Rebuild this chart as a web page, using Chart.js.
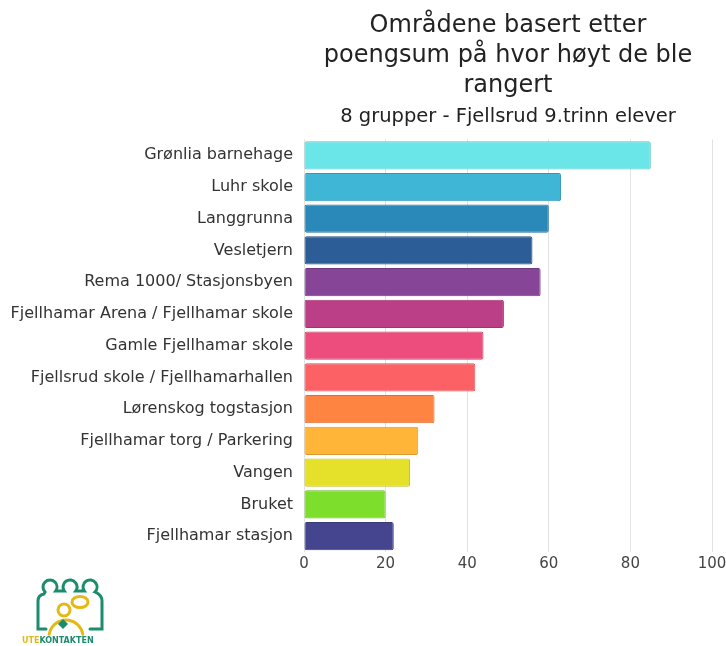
<!DOCTYPE html>
<html>
<head>
<meta charset="utf-8">
<script src="https://cdn.jsdelivr.net/npm/chart.js@4/dist/chart.umd.min.js"></script>
<style>
  html, body { margin: 0; padding: 0; background: #fff; }
  #wrap { width: 726px; height: 646px; position: relative; }
</style>
</head>
<body>
<div id="wrap"><canvas id="chart"></canvas></div>
<script>
const areas = [
    'Grønlia barnehage',
    'Luhr skole',
    'Langgrunna',
    'Vesletjern',
    'Rema 1000/ Stasjonsbyen',
    'Fjellhamar Arena / Fjellhamar skole',
    'Gamle Fjellhamar skole',
    'Fjellsrud skole / Fjellhamarhallen',
    'Lørenskog togstasjon',
    'Fjellhamar torg / Parkering',
    'Vangen',
    'Bruket',
    'Fjellhamar stasjon'
];
const points = [85, 63, 60, 56, 58, 49, 44, 42, 32, 28, 26, 20, 22];
const xTicks = [0, 20, 40, 60, 80, 100];

const barColors = ['#6ae5e8', '#40b6d6', '#2a89b8', '#2c5d96', '#874598', '#bb3f86', '#ec4d7c',
    '#fc6166', '#fd8441', '#feb538', '#e5e12a', '#7ddf2b', '#45458f'];
const borderColors = ['#58c4c8', '#3498b4', '#23739b', '#244d7e', '#713a80', '#9e3571', '#c74168',
    '#d55156', '#d56f37', '#d6992f', '#c1bd23', '#69bc24', '#393a79'];

const fontFam = '"DejaVu Sans", sans-serif';

// draws the little Utekontakten logo in the lower left corner
const logoPlugin = {
    id: 'logo',
    afterDraw(chart) {
        const c = chart.ctx;
        const green = '#1b8c6c';
        const yellow = '#e4b915';
        c.save();
        c.lineWidth = 3;
        c.strokeStyle = green;
        c.lineCap = 'round';
        // three figures in the back
        c.beginPath();
        c.moveTo(46, 629);
        c.lineTo(38, 629);
        c.lineTo(38, 601);
        c.quadraticCurveTo(38, 595, 44, 594);
        c.arc(50, 587, 7, Math.PI * 0.75, Math.PI * 0.2, false);
        c.arc(70, 587, 7, Math.PI * 0.8, Math.PI * 0.2, false);
        c.arc(90, 587, 7, Math.PI * 0.8, Math.PI * 0.25, false);
        c.quadraticCurveTo(102, 595, 102, 601);
        c.lineTo(102, 629);
        c.lineTo(90, 629);
        c.stroke();
        // front person
        c.strokeStyle = yellow;
        c.beginPath();
        c.arc(64, 610, 6, 0, Math.PI * 2);
        c.stroke();
        c.beginPath();
        c.arc(66, 637, 17, Math.PI * 1.05, Math.PI * 1.95, false);
        c.stroke();
        // speech bubble
        c.beginPath();
        c.ellipse(80, 602, 8, 5.5, 0, 0, Math.PI * 2);
        c.stroke();
        // diamond
        c.fillStyle = green;
        c.beginPath();
        c.moveTo(63, 619);
        c.lineTo(68, 624);
        c.lineTo(63, 629);
        c.lineTo(58, 624);
        c.closePath();
        c.fill();
        // name
        c.font = 'bold 8px ' + fontFam;
        c.textBaseline = 'middle';
        c.fillStyle = yellow;
        c.fillText('UTE', 22, 641);
        const w = c.measureText('UTE').width;
        c.fillStyle = green;
        c.fillText('KONTAKTEN', 22 + w, 641);
        c.restore();
    }
};

new Chart(document.getElementById('chart'), {
    type: 'bar',
    data: {
        labels: areas,
        datasets: [{
            label: 'Poengsum',
            data: points,
            backgroundColor: barColors,
            borderColor: borderColors,
            borderWidth: 1,
            borderRadius: 2,
            borderSkipped: false,
            categoryPercentage: 1,
            barPercentage: 0.89
        }]
    },
    options: {
        indexAxis: 'y',
        responsive: true,
        maintainAspectRatio: false,
        animation: false,
        layout: { padding: { top: 11, right: 0, bottom: 70, left: 0 } },
        plugins: {
            legend: { display: false },
            tooltip: { enabled: false },
            title: {
                display: true,
                fullSize: false,
                text: ['Områdene basert etter', 'poengsum på hvor høyt de ble', 'rangert'],
                color: '#222',
                font: { family: fontFam, size: 24, weight: 'normal', lineHeight: 1.25 },
                padding: { top: 0, bottom: 4 }
            },
            subtitle: {
                display: true,
                fullSize: false,
                text: '8 grupper - Fjellsrud 9.trinn elever',
                color: '#222',
                font: { family: fontFam, size: 19.5, weight: 'normal', lineHeight: 1.2 },
                padding: { top: 0, bottom: 11 }
            }
        },
        scales: {
            x: {
                min: 0,
                max: 100,
                afterBuildTicks(scale) {
                    scale.ticks = xTicks.map(v => ({ value: v }));
                },
                afterFit(scale) { scale.paddingRight = 14; },
                grid: { color: '#e2e2e2', drawTicks: false },
                border: { display: false },
                ticks: {
                    color: '#444',
                    padding: 3,
                    font: { family: fontFam, size: 15 }
                }
            },
            y: {
                grid: { display: false },
                border: { display: false },
                afterFit(scale) { scale.width = 304; },
                ticks: {
                    color: '#333',
                    padding: 3,
                    font: { family: fontFam, size: 16 }
                }
            }
        }
    },
    plugins: [logoPlugin]
});
</script>
</body>
</html>
